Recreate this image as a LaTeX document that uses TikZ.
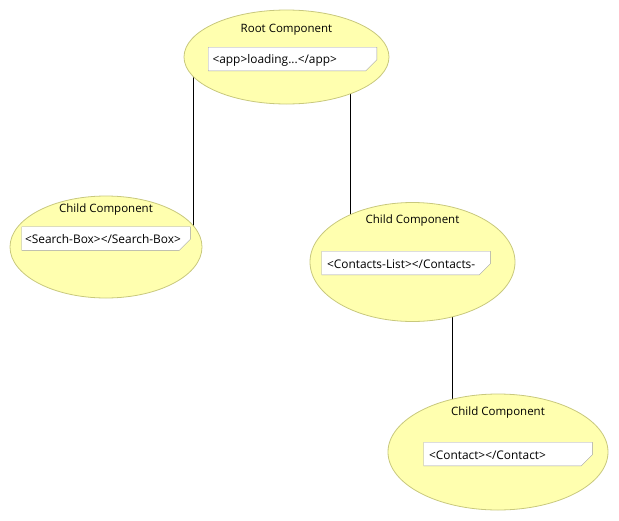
\documentclass[tikz,border=0pt]{standalone}
\usepackage{fontspec}
\setmainfont{Open Sans}
\usepackage{tikz}
\usetikzlibrary{positioning}
\usetikzlibrary{shapes.geometric}
\usetikzlibrary{backgrounds}
\definecolor{compyellow}{RGB}{255,255,175}
\definecolor{compborder}{RGB}{200,200,125}
\definecolor{tagborder}{RGB}{160,160,160}
\tikzset{comp node/.style={ellipse,fill=compyellow,draw=compborder,line width=0.8pt,inner sep=0pt},
	title node/.style={font=\fontsize{11.5}{13}\selectfont,inner sep=0pt},
	tag box/.style={minimum width=168pt,minimum height=23pt,inner sep=0pt},
	tag text/.style={font=\fontsize{11.9}{13}\selectfont,inner sep=0pt,anchor=west},}

\begin{document}
\begin{tikzpicture}[x=1pt, y=-1pt, semithick]
	\useasboundingbox (0,0) rectangle (619,520);
	% components
	\node[comp node, minimum width=205pt, minimum height=94pt] (root) at (286.5,57) {};
	\node[comp node, minimum width=192pt, minimum height=102pt] (search) at (106,247) {};
	\node[comp node, minimum width=205pt, minimum height=119pt] (list) at (412.5,262) {};
	\node[comp node, minimum width=220pt, minimum height=116pt] (contact) at (498,452) {};

	\node[title node] (roott) at (286.5,30) {Root Component};
	\node[title node] (searcht) at (106,210) {Child Component};
	\node[title node] (listt) at (412.5,221) {Child Component};
	\node[title node] (contactt) at (498,413) {Child Component};

	% tag boxes
	\node[tag box] (rbox) at (292.5,59) {};
	\node[tag box] (sbox) at (106,238.5) {};
	\node[tag box] (lbox) at (406,263) {};
	\node[tag box] (cbox) at (508,454) {};
	\foreach \b in {rbox,sbox,lbox,cbox}
		\filldraw[fill=white, draw=tagborder, thin] (\b.north west) -- (\b.north east) -- ([yshift=11pt]\b.south east)
			-- ([xshift=-11pt]\b.south east) -- (\b.south west) -- cycle;

	\node[tag text] (rtag) at ([xshift=4pt, yshift=-1pt]rbox.west) {<app>loading...</app>};
	\node[tag text] (stag) at ([xshift=3pt, yshift=-1pt]sbox.west) {<Search-Box></Search-Box>};
	\node[tag text] (ltag) at ([xshift=5pt, yshift=-1pt]lbox.west) {<Contacts-List></Contacts-};
	\node[tag text] (ctag) at ([xshift=5pt, yshift=-1pt]cbox.west) {<Contact></Contact>};

	% connectors
	\coordinate (r1) at ([xshift=-93.5pt]root.center);
	\coordinate (r2) at ([xshift=63.5pt]root.center);
	\coordinate (l1) at ([xshift=39.5pt]list.center);
	\begin{scope}[on background layer]
		\draw (r1) -- (r1 |- search.center);
		\draw (r2) -- (r2 |- list.center);
		\draw (l1) -- (l1 |- contact.center);
	\end{scope}
\end{tikzpicture}
\end{document}
